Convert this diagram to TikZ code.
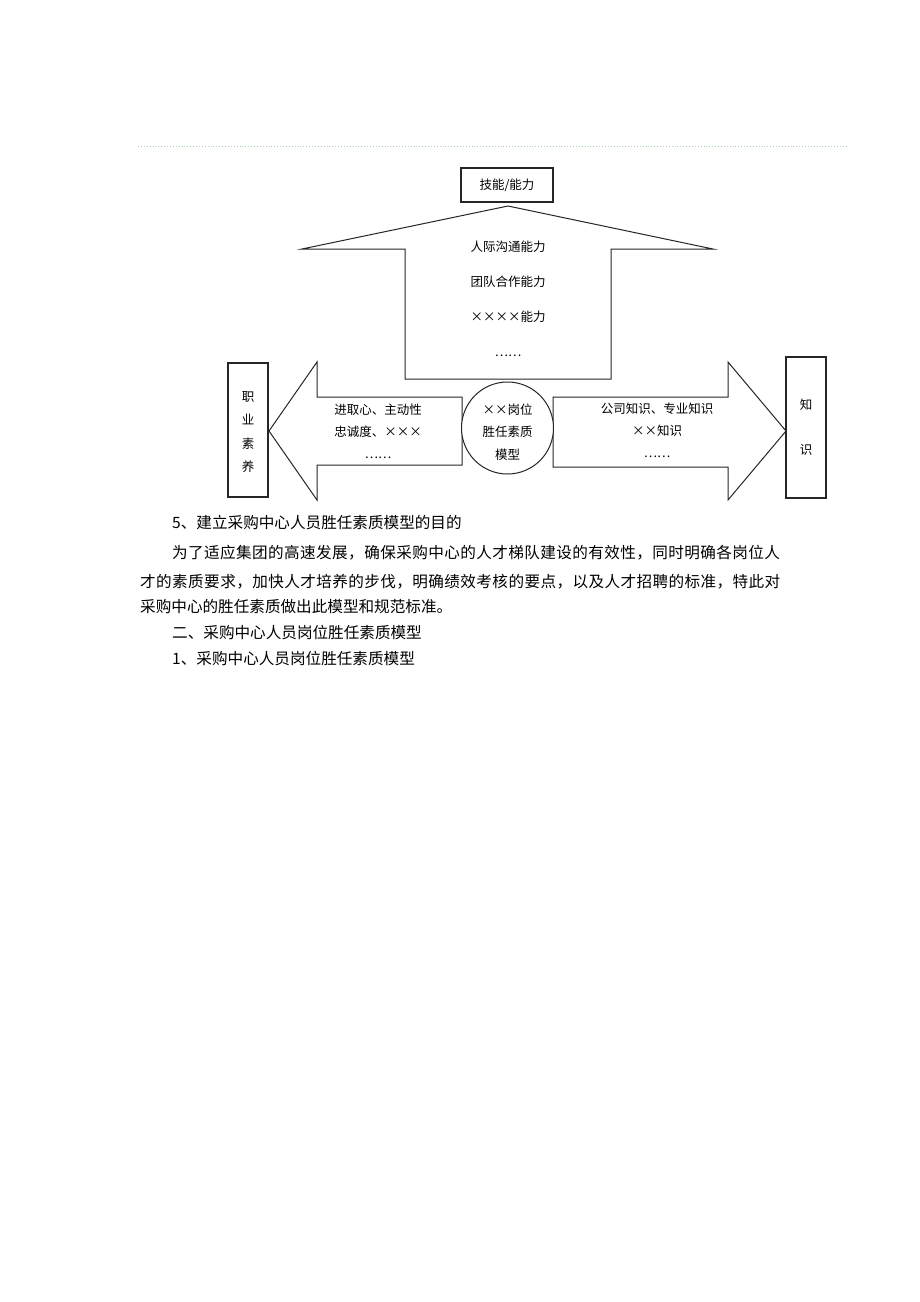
\documentclass[tikz,border=0pt]{standalone}
\usepackage{fontspec}
\setmainfont{Noto Sans CJK SC}
\newfontfamily\spacedcjk[LetterSpace=2.6]{Noto Sans CJK SC}
\newfontfamily\spacedcjkb[LetterSpace=2.65]{Noto Sans CJK SC}
\begin{document}
\begin{tikzpicture}[x=1pt,y=-1pt,
  shapeline/.style={draw=black!85, line width=1pt, fill=white},
  boxline/.style={draw=black!85, line width=1.1pt, fill=white, inner sep=0pt},
  dlabel/.style={font=\fontsize{12.5}{14}\selectfont, inner sep=0pt, align=center},
  bodyline/.style={font=\fontsize{15.6}{18}\selectfont, anchor=west, inner sep=0pt}]
\path[fill=white] (0,0) rectangle (920,1302);
\useasboundingbox (0,0) rectangle (920,1302);
\coordinate (ruleL) at (138,146);
\coordinate (ruleR) at (848,146);
\draw[draw={rgb,255:red,170;green,208;blue,170}, dotted, line width=0.9pt] (ruleL) -- (ruleR);

% top box
\node[boxline, minimum width=92, minimum height=34, font=\fontsize{12.5}{14}\selectfont] (skill) at (507,185) {技能/能力};

% up arrow
\draw[shapeline] (508,206) -- (713,249) -- (611,249) -- (611,379) -- (405,379) -- (405,249) -- (302,249) -- cycle;
\node[dlabel, font=\fontsize{12.5}{35}\selectfont] (uptext) at (508,299) {人际沟通能力\\团队合作能力\\××××能力\\……};

% left arrow
\draw[shapeline] (269,431) -- (317,362) -- (317,397) -- (462,397) -- (462,465) -- (317,465) -- (317,500) -- cycle;
\node[dlabel, font=\fontsize{12.5}{22}\selectfont] (lefttext) at (378,431) {进取心、主动性\\忠诚度、×××\\……};

% right arrow
\draw[shapeline] (786,431) -- (728,362) -- (728,397) -- (553,397) -- (553,467) -- (728,467) -- (728,500) -- cycle;
\node[dlabel, font=\fontsize{12.5}{22}\selectfont] (righttext) at (657,430) {公司知识、专业知识\\××知识\\……};

% centre circle
\node[boxline, circle, line width=1pt, minimum size=92] (core) at (507.5,428) {};
\node[dlabel, font=\fontsize{12.5}{22.5}\selectfont] (coretext) at (507.5,432) {××岗位\\胜任素质\\模型};

% side boxes
\node[boxline, minimum width=40, minimum height=134] (quality) at (248,430) {};
\node[dlabel, font=\fontsize{12.5}{23.5}\selectfont] (qualitytext) at (248,432) {职\\业\\素\\养};
\node[boxline, minimum width=40, minimum height=141] (know) at (806,427.5) {};
\node[dlabel, font=\fontsize{12.5}{45}\selectfont] (knowtext) at (806,427.5) {知\\识};

% body text
\node[bodyline] (h5) at (172,523) {5、建立采购中心人员胜任素质模型的目的};
\node[bodyline, font=\fontsize{15.6}{18}\spacedcjk] (p1) at (172,553) {为了适应集团的高速发展，确保采购中心的人才梯队建设的有效性，同时明确各岗位人};
\node[bodyline, font=\fontsize{15.6}{18}\spacedcjkb] (p2) at (140,582) {才的素质要求，加快人才培养的步伐，明确绩效考核的要点，以及人才招聘的标准，特此对};
\node[bodyline] (p3) at (140,607) {采购中心的胜任素质做出此模型和规范标准。};
\node[bodyline] (h2) at (172,633) {二、采购中心人员岗位胜任素质模型};
\node[bodyline] (h1) at (172,659) {1、采购中心人员岗位胜任素质模型};
\end{tikzpicture}
\end{document}
